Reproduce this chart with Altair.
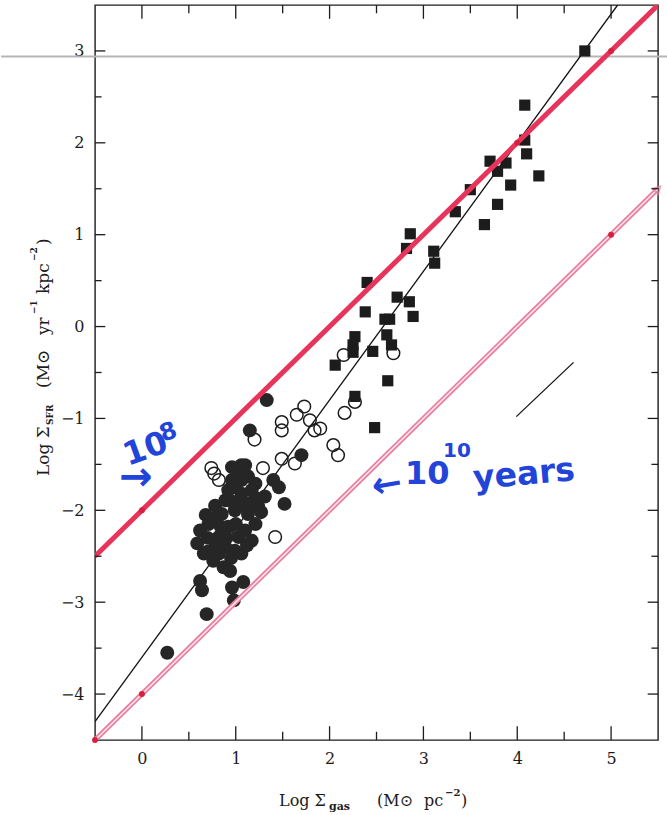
import altair as alt
import pandas as pd

# ---------------- data ----------------
# normal disks (filled circles): log Sigma_gas, log Sigma_SFR
disk_x = [1.33, 1.15, 1.70, 1.52, 1.46, 1.40, 1.10, 0.62, 0.64, 0.96, 1.08, 0.98, 0.69, 0.27, 0.94,
          1.06, 1.21, 1.03, 0.96, 0.89, 1.06, 1.22, 1.31, 0.80, 0.71, 0.62, 0.59, 0.66, 0.76, 0.87,
          1.06, 1.17, 1.21, 1.13, 0.99, 0.92, 0.82, 1.03, 1.10, 0.89, 0.99, 0.82, 1.24, 1.06, 1.17,
          0.92, 0.85, 0.96, 0.70, 0.78, 0.90, 1.00, 1.05, 0.95, 1.15, 0.70, 0.95, 1.12, 0.84, 1.00,
          1.13, 0.68, 0.78, 1.27]
disk_y = [-0.80, -1.13, -1.40, -1.93, -1.75, -1.67, -1.51, -2.77, -2.87, -2.84, -2.78, -2.98, -3.13, -3.55, -2.66,
          -1.51, -1.71, -1.63, -1.67, -1.89, -1.82, -1.87, -1.85, -2.07, -2.15, -2.22, -2.36, -2.47, -2.55, -2.62,
          -2.47, -2.33, -2.15, -2.04, -2.00, -2.18, -2.29, -2.29, -2.22, -2.40, -2.44, -2.47, -1.96, -1.67, -1.78,
          -1.78, -2.04, -1.53, -2.30, -2.40, -2.30, -2.15, -1.95, -1.90, -1.92, -2.45, -2.52, -2.38, -2.18, -1.75,
          -1.63, -2.05, -1.95, -2.02]

# circumnuclear regions (open circles)
center_x = [1.20, 0.74, 0.77, 0.82, 1.49, 1.49, 1.65, 1.73, 1.79, 1.84, 1.90, 2.04, 2.09, 1.49, 1.63,
            1.29, 1.42, 2.16, 2.27, 2.15, 2.68]
center_y = [-1.23, -1.54, -1.60, -1.67, -1.04, -1.13, -0.96, -0.87, -1.02, -1.13, -1.11, -1.29, -1.40, -1.44, -1.49,
            -1.54, -2.29, -0.94, -0.82, -0.31, -0.29]

# starbursts (filled squares)
burst_x = [4.72, 4.08, 4.08, 4.10, 3.71, 3.88, 3.79, 4.23, 3.93, 3.50, 3.79, 3.34, 3.65, 2.86, 2.82,
           3.11, 3.12, 2.40, 2.72, 2.85, 2.38, 2.89, 2.59, 2.64, 2.61, 2.27, 2.66, 2.25, 2.25, 2.46,
           2.06, 2.62, 2.27, 2.48]
burst_y = [3.00, 2.41, 2.03, 1.88, 1.80, 1.78, 1.69, 1.64, 1.54, 1.49, 1.33, 1.25, 1.11, 1.01, 0.85,
           0.82, 0.69, 0.48, 0.32, 0.27, 0.16, 0.11, 0.08, 0.08, -0.09, -0.11, -0.20, -0.20, -0.28, -0.27,
           -0.42, -0.59, -0.76, -1.10]

# lines
fit_x = [-0.5, 5.07]
fit_y = [-4.3, 3.5]
t8_x = [-0.5, 5.5]          # 10^8 yr gas consumption time
t8_y = [-2.5, 3.5]
t10_x = [-0.5, 5.5]         # 10^10 yr gas consumption time
t10_y = [-4.5, 1.5]
seg_x = [3.99, 4.60]
seg_y = [-0.98, -0.39]
dot_x = [0, 4, 5, 0, 5, -0.5]
dot_y = [-2, 2, 3, -4, 1, -4.5]
scan_x = [-1.5, 5.62]
scan_y = [2.94, 2.94]

x_ticks = [0, 1, 2, 3, 4, 5]
x_minor = [0.5, 1.5, 2.5, 3.5, 4.5]
y_ticks = [-4, -3, -2, -1, 0, 1, 2, 3]
y_minor = [-3.5, -2.5, -1.5, -0.5, 0.5, 1.5, 2.5]

X_DOM = [-0.5, 5.5]
Y_DOM = [-4.5, 3.5]

# ---------------- chart ----------------
W, H = 563, 735
SERIF = "DejaVu Serif"
HAND = "DejaVu Sans"
INK = "#1c1c1c"
RED = "#e8345a"
PINK = "#e97d9e"
BLUE = "#2244d8"

xs = alt.Scale(domain=X_DOM, nice=False, zero=False)
ys = alt.Scale(domain=Y_DOM, nice=False, zero=False)
xaxis = alt.Axis(values=x_ticks, ticks=False, domain=False, grid=False, labelFont=SERIF,
                 labelFontSize=16, labelPadding=10, labelColor=INK, title=None)
yaxis = alt.Axis(values=y_ticks, ticks=False, domain=False, grid=False, labelFont=SERIF,
                 labelFontSize=16, labelPadding=11, labelColor=INK, title=None)


def X(f):
    return alt.X(f, type="quantitative", scale=xs, axis=xaxis)


def Y(f):
    return alt.Y(f, type="quantitative", scale=ys, axis=yaxis)


def line_df(xv, yv):
    return pd.DataFrame({"x": xv, "y": yv})


scan = alt.Chart(line_df(scan_x, scan_y)).mark_line(
    color="#b5b5b5", strokeWidth=2, clip=False).encode(X("x"), Y("y"))
fit = alt.Chart(line_df(fit_x, fit_y)).mark_line(
    color="#111111", strokeWidth=1.3, clip=True).encode(X("x"), Y("y"))
seg = alt.Chart(line_df(seg_x, seg_y)).mark_line(
    color="#111111", strokeWidth=1.3).encode(X("x"), Y("y"))

centers = alt.Chart(line_df(center_x, center_y)).mark_point(
    shape="circle", filled=False, size=160, strokeWidth=1.5, color=INK, opacity=1).encode(X("x"), Y("y"))
disks = alt.Chart(line_df(disk_x, disk_y)).mark_circle(
    size=195, color="#262626", opacity=1).encode(X("x"), Y("y"))
bursts = alt.Chart(line_df(burst_x, burst_y)).mark_square(
    size=125, color=INK, opacity=1).encode(X("x"), Y("y"))

t10_outer = alt.Chart(line_df(t10_x, t10_y)).mark_line(
    color=PINK, strokeWidth=5, clip=True).encode(X("x"), Y("y"))
t10_inner = alt.Chart(line_df(t10_x, t10_y)).mark_line(
    color="#fbe6ed", strokeWidth=1.6, clip=True).encode(X("x"), Y("y"))
t8 = alt.Chart(line_df(t8_x, t8_y)).mark_line(
    color=RED, strokeWidth=5, clip=True).encode(X("x"), Y("y"))
dots = alt.Chart(line_df(dot_x, dot_y)).mark_circle(
    size=35, color="#d81f3d", opacity=1, clip=False).encode(X("x"), Y("y"))
arrowhead = alt.Chart(line_df([t10_x[-1]], [t10_y[-1]])).mark_point(
    shape="triangle-up", angle=45, size=70, filled=False, strokeWidth=1.6, color=PINK,
    clip=False).encode(X("x"), Y("y"))

# inward tick marks on all four sides
tx = []
for v in x_ticks:
    tx.append({"x": v, "y": Y_DOM[0], "y2": Y_DOM[0] + 0.15})
    tx.append({"x": v, "y": Y_DOM[1], "y2": Y_DOM[1] - 0.15})
for v in x_minor:
    tx.append({"x": v, "y": Y_DOM[0], "y2": Y_DOM[0] + 0.09})
    tx.append({"x": v, "y": Y_DOM[1], "y2": Y_DOM[1] - 0.09})
ty = []
for v in y_ticks:
    ty.append({"y": v, "x": X_DOM[0], "x2": X_DOM[0] + 0.11})
    ty.append({"y": v, "x": X_DOM[1], "x2": X_DOM[1] - 0.11})
for v in y_minor:
    ty.append({"y": v, "x": X_DOM[0], "x2": X_DOM[0] + 0.07})
    ty.append({"y": v, "x": X_DOM[1], "x2": X_DOM[1] - 0.07})
xticks = alt.Chart(pd.DataFrame(tx)).mark_rule(color=INK, strokeWidth=1.3).encode(
    X("x"), Y("y"), y2="y2")
yticks = alt.Chart(pd.DataFrame(ty)).mark_rule(color=INK, strokeWidth=1.3).encode(
    X("x"), Y("y"), x2="x2")

one = pd.DataFrame({"k": [0]})


def txt(s, x, y, size, font=SERIF, color=INK, weight="normal", angle=0, align="left", baseline="alphabetic"):
    return alt.Chart(one).mark_text(
        text=s, x=x - 95, y=y - 5, fontSize=size, font=font, color=color, fontWeight=weight,
        angle=angle, align=align, baseline=baseline)


texts = [
    # x-axis title
    txt("Log Σ", 279, 806, 16),
    txt("gas", 329, 810, 11, weight="bold"),
    txt("(M⊙", 377, 806, 16),
    txt("pc", 424, 806, 16),
    txt("−2", 445, 796, 10, weight="bold"),
    txt(")", 461, 806, 16),
    # y-axis title (rotated)
    txt("Log Σ", 49, 476, 17, angle=270),
    txt("SFR", 53, 425, 9, weight="bold", angle=270),
    txt("(M⊙", 49, 388, 17, angle=270),
    txt("yr", 49, 335, 17, angle=270),
    txt("−1", 37, 314, 9, weight="bold", angle=270),
    txt("kpc", 49, 294, 17, angle=270),
    txt("−2", 37, 261, 9, weight="bold", angle=270),
    txt(")", 49, 245, 17, angle=270),
    # blue hand-written notes
    txt("10", 128, 466, 32, font=HAND, color=BLUE, weight="bold", angle=340),
    txt("8", 163, 442, 24, font=HAND, color=BLUE, weight="bold", angle=340),
    txt("→", 136, 478, 40, font=HAND, color=BLUE, weight="bold", align="center", baseline="middle"),
    txt("←", 387, 485, 36, font=HAND, color=BLUE, weight="bold", align="center", baseline="middle", angle=350),
    txt("10", 405, 484, 32, font=HAND, color=BLUE, weight="bold"),
    txt("10", 443, 457, 20, font=HAND, color=BLUE, weight="bold"),
    txt("years", 474, 489, 33, font=HAND, color=BLUE, weight="bold", angle=355),
]

chart = alt.layer(
    scan, fit, seg, centers, disks, bursts, t10_outer, t10_inner, t8, dots, arrowhead,
    xticks, yticks, *texts
).properties(
    width=W, height=H,
    autosize=alt.AutoSizeParams(type="none"),
    padding={"left": 95, "top": 5, "right": 9, "bottom": 75},
    background="white",
).configure_view(stroke=INK, strokeWidth=1.4)

chart.save("out.html", embed_options={"renderer": "svg", "actions": False})
